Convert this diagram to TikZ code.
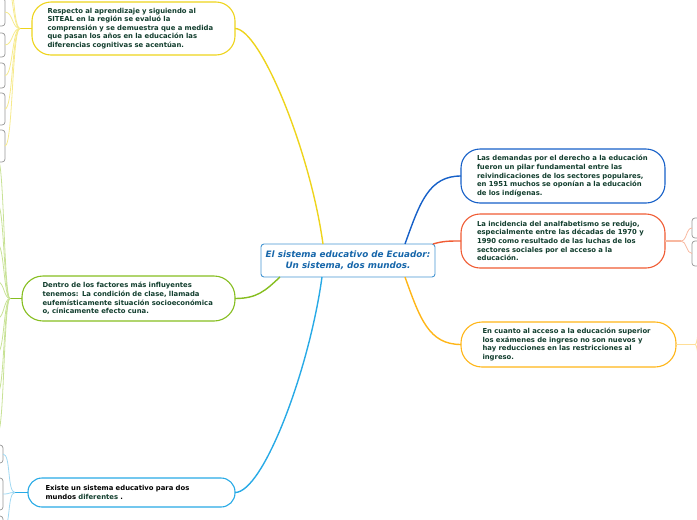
\documentclass[tikz,border=0pt]{standalone}
\usepackage{fontspec}
\setmainfont{DejaVu Sans}
\definecolor{mmtext}{RGB}{18,62,46}
\definecolor{mmcore}{RGB}{70,150,210}
\definecolor{mmcoretext}{RGB}{22,102,170}
\definecolor{mmyellow}{RGB}{238,212,28}
\definecolor{mmyellowpale}{RGB}{246,234,140}
\definecolor{mmgreen}{RGB}{134,190,32}
\definecolor{mmgreenpale}{RGB}{200,226,150}
\definecolor{mmcyan}{RGB}{40,170,230}
\definecolor{mmcyanpale}{RGB}{160,216,242}
\definecolor{mmblue}{RGB}{22,96,200}
\definecolor{mmred}{RGB}{240,92,52}
\definecolor{mmredpale}{RGB}{248,184,160}
\definecolor{mmamber}{RGB}{255,182,24}
\definecolor{mmamberpale}{RGB}{255,222,150}
\definecolor{mmgray}{RGB}{150,150,150}

\begin{document}
\begin{tikzpicture}[
  x=1pt,
  y=-1pt,
  every node/.style={inner sep=0pt, outer sep=0pt},
  txt/.style={font=\bfseries\fontsize{6.85}{8.6}\selectfont, text=mmtext, align=left, text width=172pt},
  core/.style={draw=mmcore, fill=white, rounded corners=3pt, line width=0.9pt,
    font=\bfseries\itshape\fontsize{8.8}{10.5}\selectfont, text=mmcoretext, align=center,
    minimum width=174pt, minimum height=33pt},
  idea/.style={txt, fill=white, line width=1.1pt},
  leaf/.style={draw=mmgray, line width=0.7pt, rounded corners=3pt, minimum width=40pt},
  link/.style={line width=1.4pt},
  twig/.style={line width=0.8pt}
]

  \path[use as bounding box] (0,0) rectangle (697,520);
  \clip (0,0) rectangle (697,520);

  % Central topic
  \node[core] (c) at (348,260.5) {El sistema educativo de Ecuador:\\Un sistema, dos mundos.};

  % Main ideas
  \node[idea, draw=mmyellow, rounded corners=19pt, minimum width=203pt, minimum height=53pt] (y1) at (133.5,28.5)
    {Respecto al aprendizaje y siguiendo al\\SITEAL en la región se evaluó la\\comprensión y se demuestra que a medida\\que pasan los años en la educación las\\diferencias cognitivas se acentúan.};
  \node[idea, draw=mmgreen, rounded corners=21pt, minimum width=213pt, minimum height=45pt] (g1) at (128.5,298.5)
    {Dentro de los factores más influyentes\\tenemos: La condición de clase, llamada\\eufemísticamente situación socioeconómica\\o, cínicamente efecto cuna.};
  \node[idea, draw=mmcyan, rounded corners=14pt, minimum width=207pt, minimum height=29pt] (b1) at (131.5,492.5)
    {\textcolor{black}{Existe un sistema educativo para dos}\\\textcolor{black}{mundos} diferentes \textcolor{black}{.}};
  \node[idea, draw=mmblue, rounded corners=19pt, minimum width=204pt, minimum height=54pt] (r1) at (563,176)
    {Las demandas por el derecho a la educación\\fueron un pilar fundamental entre las\\reivindicaciones de los sectores populares,\\en 1951 muchos se oponían a la educación\\de los indígenas.};
  \node[idea, draw=mmred, rounded corners=19pt, minimum width=204pt, minimum height=54pt] (r2) at (563,241)
    {La incidencia del analfabetismo se redujo,\\especialmente entre las décadas de 1970 y\\1990 como resultado de las luchas de los\\sectores sociales por el acceso a la\\educación.};
  \node[idea, draw=mmamber, rounded corners=21pt, minimum width=215pt, minimum height=45pt] (r3) at (568.5,344.5)
    {En cuanto al acceso a la educación superior\\los exámenes de ingreso no son nuevos y\\hay reducciones en las restricciones al\\ingreso.};

  % Links from the centre
  \draw[link, mmyellow] ([xshift=-25pt]c.north) .. controls +(-13,-94) and +(25,0) .. (y1.east);
  \draw[link, mmgreen] ([xshift=-68pt]c.south) .. controls +(-15,14) and +(22,0) .. (g1.east);
  \draw[link, mmcyan] ([xshift=-26pt]c.south) .. controls +(-13,94) and +(28,0) .. (b1.east);
  \draw[link, mmblue] ([xshift=57pt]c.north) .. controls +(15,-42) and +(-32,0) .. (r1.west);
  \draw[link, mmred] ([xshift=-2pt]c.north east) .. controls +(10,-3) and +(-12,0) .. (r2.west);
  \draw[link, mmamber] ([xshift=57pt]c.south) .. controls +(15,42) and +(-32,0) .. (r3.west);

  % Yellow sub-topics (cut off at the left)
  \coordinate (yj) at (20,28.5);
  \draw[link, mmyellow] (y1.west) -- (yj);
  \node[leaf, anchor=east, minimum height=28pt] (ya) at (5,12) {};
  \node[leaf, anchor=east, minimum height=24pt] (yb) at (5,45) {};
  \node[leaf, anchor=east, minimum height=25pt] (yc) at (5,75.5) {};
  \node[leaf, anchor=east, minimum height=32pt] (yd) at (5,109) {};
  \node[leaf, anchor=east, minimum height=32pt] (ye) at (5,146) {};
  \node[leaf, anchor=east, minimum height=24pt] (yf) at (5,-22) {};
  \node[leaf, anchor=east, minimum height=24pt] (yg) at (5,-52) {};
  \foreach \leafname in {ya,yb,yc,yd,ye,yf,yg}
    \draw[twig, mmyellowpale] (yj) .. controls +(-8,0) and +(8,0) .. (\leafname.east);

  % Green sub-topics (cut off at the left)
  \coordinate (gj) at (10,298.5);
  \draw[link, mmgreen] (g1.west) -- (gj);
  \foreach \ylev in {160,205,245,282,318,352,392,432}
    \draw[twig, mmgreenpale] (gj) .. controls +(-6,0) and +(6,0) .. (-2,\ylev);

  % Cyan sub-topics (cut off at the left)
  \coordinate (bj) at (15,492.5);
  \draw[link, mmcyan] (b1.west) -- (bj);
  \node[leaf, anchor=east, minimum height=18pt] (ba) at (3,454) {};
  \node[leaf, anchor=east, minimum height=32pt] (bb) at (3,494) {};
  \node[leaf, anchor=east, minimum height=26pt] (bc) at (3,529) {};
  \foreach \leafname in {ba,bb,bc}
    \draw[twig, mmcyanpale] (bj) .. controls +(-8,0) and +(8,0) .. (\leafname.east);

  % Red sub-topics (cut off at the right)
  \coordinate (rj) at (681,241);
  \draw[link, mmredpale] (r2.east) -- (rj);
  \node[leaf, anchor=west, minimum height=20pt] (ra) at (692,228) {};
  \node[leaf, anchor=west, minimum height=25pt] (rb) at (692,253.5) {};
  \foreach \leafname in {ra,rb}
    \draw[twig, mmredpale] (rj) .. controls +(6,0) and +(-6,0) .. (\leafname.west);

  % Amber sub-topics (cut off at the right)
  \coordinate (aj) at (695,344.5);
  \draw[link, mmamberpale] (r3.east) -- (aj);
  \foreach \ylev in {285,400}
    \draw[twig, mmamberpale] (aj) .. controls +(5,0) and +(-4,0) .. (702,\ylev);

\end{tikzpicture}
\end{document}
